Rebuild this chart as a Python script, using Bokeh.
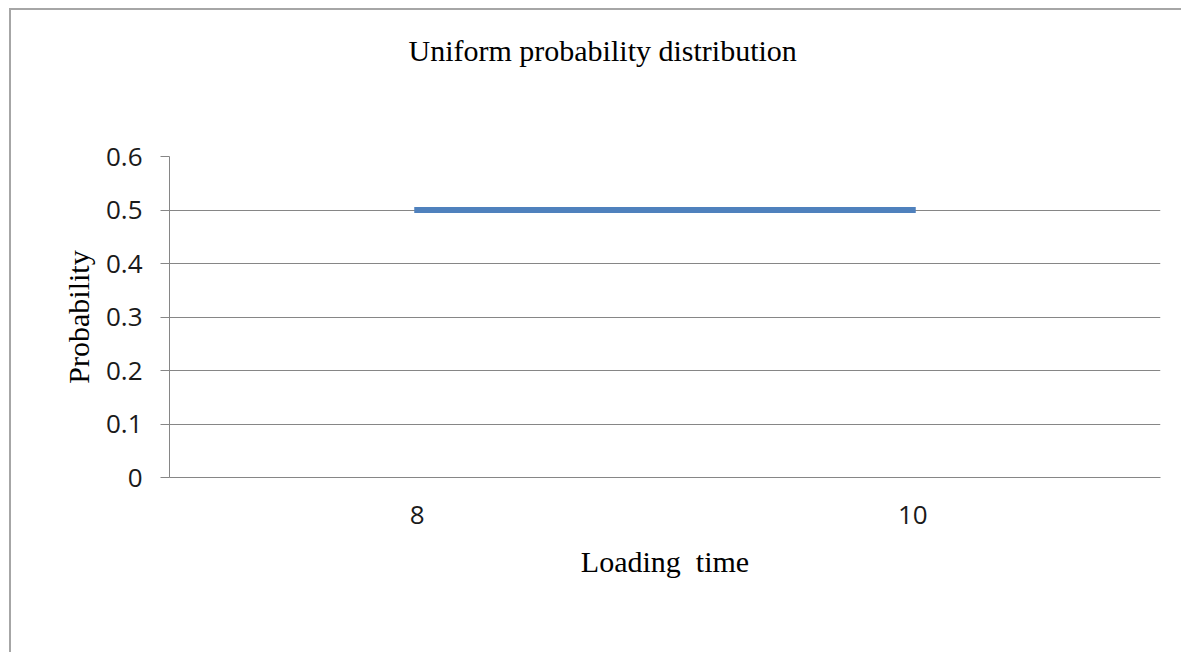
from bokeh.plotting import figure
from bokeh.models import Range1d, Title, FixedTicker, LinearAxis
from bokeh.embed import file_html
from bokeh.resources import INLINE

# Uniform distribution of loading time between 8 and 10
categories = ["8", "10"]
probabilities = [0.5, 0.5]
y_ticks = [0, 0.1, 0.2, 0.3, 0.4, 0.5, 0.6]

SERIF = "Liberation Serif"
SANS = "Open Sans"
GRID = "#868686"

# each category occupies one unit; its mark sits at the middle of the slot
slot_centres = [i + 0.5 for i in range(len(categories))]

p = figure(
    width=1172, height=644,
    x_range=Range1d(0, len(categories)),
    y_range=Range1d(0, 0.6),
    output_backend="svg", toolbar_location=None, tools="",
    min_border_left=158, min_border_right=23,
    min_border_top=146, min_border_bottom=177,
)
# chart area border: only the left and top edges fall inside the page
p.margin = (8, 0, 0, 9)
p.styles = {"border-left": "2px solid #a6a6a6", "border-top": "2px solid #a6a6a6"}
p.outline_line_color = None
p.background_fill_color = "white"
p.border_fill_color = "white"

# blank axis directly above the frame: its long white tick reserves the gap
# between the plot area and the title
gap = LinearAxis(ticker=FixedTicker(ticks=slot_centres[:1]),
                 major_label_overrides={slot_centres[0]: ""},
                 major_label_text_font_size="0px", major_label_text_alpha=0,
                 major_label_standoff=0, axis_line_color=None,
                 major_tick_line_color="white", minor_tick_line_color=None,
                 major_tick_out=85, major_tick_in=0, minor_tick_out=0)
p.add_layout(gap, "above")

p.add_layout(Title(text="Uniform probability distribution", align="left",
                   offset=239, text_font=SERIF, text_font_size="30px",
                   text_font_style="normal", text_color="#000000"), "above")

p.line(x=slot_centres, y=probabilities, line_width=6, line_color="#4F81BD",
       line_cap="square")

# grid
p.xgrid.grid_line_color = None
p.ygrid.grid_line_color = GRID
p.ygrid.grid_line_width = 1

# y axis
p.yaxis.ticker = FixedTicker(ticks=y_ticks)
p.yaxis.major_label_overrides = {0: "0"}
p.yaxis.minor_tick_line_color = None
p.yaxis.major_tick_in = 0
p.yaxis.major_tick_out = 9
p.yaxis.major_tick_line_color = GRID
p.yaxis.axis_line_color = GRID
p.yaxis.major_label_standoff = 18
p.yaxis.major_label_text_font = SANS
p.yaxis.major_label_text_font_size = "26px"
p.yaxis.major_label_text_color = "#1a1a1a"
p.yaxis.axis_label = "Probability"
p.yaxis.axis_label_text_font = SERIF
p.yaxis.axis_label_text_font_size = "30px"
p.yaxis.axis_label_text_font_style = "normal"
p.yaxis.axis_label_text_color = "#000000"
p.yaxis.axis_label_standoff = 8

# x axis: category names at the slot centres
xax = p.below[0]
xax.ticker = FixedTicker(ticks=slot_centres)
xax.major_label_overrides = dict(zip(slot_centres, categories))
xax.minor_tick_line_color = None
xax.major_tick_line_color = None
xax.major_tick_out = 0
xax.major_tick_in = 0
xax.axis_line_color = GRID
xax.major_label_standoff = 28
xax.major_label_text_font = SANS
xax.major_label_text_font_size = "26px"
xax.major_label_text_color = "#1a1a1a"
xax.axis_label = "Loading\u00a0 time"
xax.axis_label_text_font = SERIF
xax.axis_label_text_font_size = "30px"
xax.axis_label_text_font_style = "normal"
xax.axis_label_text_color = "#000000"
xax.axis_label_standoff = 18

open("out.html", "w").write(file_html(p, INLINE))
